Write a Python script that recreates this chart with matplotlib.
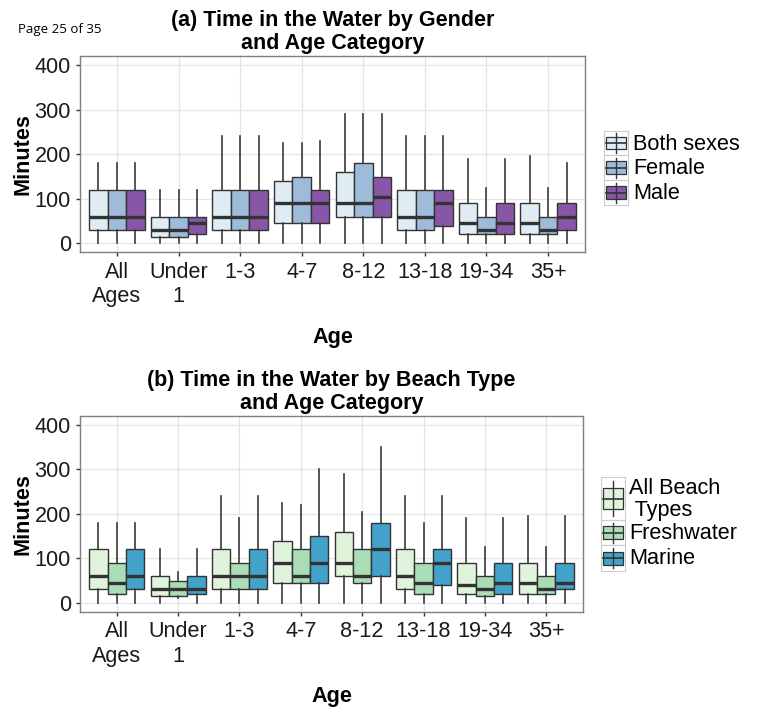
import numpy as np
import matplotlib
matplotlib.use('Agg')
import matplotlib.pyplot as plt
from matplotlib.patches import Rectangle

plt.rcParams['font.family'] = ['Liberation Sans', 'DejaVu Sans']

ages = ['All\nAges', 'Under\n1', '1-3', '4-7', '8-12', '13-18', '19-34', '35+']

# (a) gender
gender_labels = ['Both sexes', 'Female', 'Male']
gender_colors = ['#E0ECF4', '#9EBCDA', '#8856A7']
both_lo = [0, 0, 0, 0, 0, 0, 0, 0]
both_q1 = [30, 15, 30, 45, 60, 30, 20, 20]
both_med = [60, 30, 60, 90, 90, 60, 45, 45]
both_q3 = [120, 60, 120, 140, 160, 120, 90, 90]
both_hi = [180, 120, 240, 225, 290, 240, 190, 195]

female_lo = [0, 0, 0, 0, 0, 0, 0, 0]
female_q1 = [30, 15, 30, 45, 60, 30, 20, 20]
female_med = [60, 30, 60, 90, 90, 60, 30, 30]
female_q3 = [120, 60, 120, 150, 180, 120, 60, 60]
female_hi = [180, 120, 240, 225, 290, 240, 125, 125]

male_lo = [0, 0, 0, 0, 0, 0, 0, 0]
male_q1 = [30, 20, 30, 45, 60, 40, 20, 30]
male_med = [60, 45, 60, 90, 105, 90, 45, 60]
male_q3 = [120, 60, 120, 120, 150, 120, 90, 90]
male_hi = [180, 120, 240, 230, 290, 240, 190, 180]

# (b) beach type
beach_labels = ['All Beach\n Types', 'Freshwater', 'Marine']
beach_colors = ['#E0F3DB', '#A8DDB5', '#43A2CA']
all_lo = [0, 0, 0, 0, 0, 0, 0, 0]
all_q1 = [30, 15, 30, 45, 60, 30, 20, 20]
all_med = [60, 30, 60, 90, 90, 60, 40, 45]
all_q3 = [120, 60, 120, 140, 160, 120, 90, 90]
all_hi = [180, 120, 240, 225, 290, 240, 190, 195]

fresh_lo = [0, 10, 0, 0, 0, 0, 0, 0]
fresh_q1 = [20, 15, 30, 45, 45, 20, 15, 20]
fresh_med = [45, 30, 60, 60, 60, 45, 30, 30]
fresh_q3 = [90, 50, 90, 120, 120, 90, 60, 60]
fresh_hi = [180, 70, 190, 220, 205, 180, 125, 125]

marine_lo = [0, 0, 0, 0, 0, 0, 0, 0]
marine_q1 = [30, 20, 30, 45, 60, 40, 20, 30]
marine_med = [60, 30, 60, 90, 120, 90, 45, 45]
marine_q3 = [120, 60, 120, 150, 180, 120, 90, 90]
marine_hi = [180, 120, 240, 300, 350, 240, 190, 195]

gender_groups = [
    (both_lo, both_q1, both_med, both_q3, both_hi),
    (female_lo, female_q1, female_med, female_q3, female_hi),
    (male_lo, male_q1, male_med, male_q3, male_hi),
]
beach_groups = [
    (all_lo, all_q1, all_med, all_q3, all_hi),
    (fresh_lo, fresh_q1, fresh_med, fresh_q3, fresh_hi),
    (marine_lo, marine_q1, marine_med, marine_q3, marine_hi),
]

W, H = 762, 722
fig = plt.figure(figsize=(W / 100, H / 100), dpi=100)

DARK = '#333333'
FS = 15.6


def make_stats(lo, q1, med, q3, hi):
    return [dict(whislo=a, q1=b, med=c, q3=d, whishi=e, fliers=[])
            for a, b, c, d, e in zip(lo, q1, med, q3, hi)]


def panel(rect, groups, colors, title):
    ax = fig.add_axes(rect)
    pos = np.arange(1, len(ages) + 1)
    for i, (g, c) in enumerate(zip(groups, colors)):
        ax.bxp(make_stats(*g), positions=pos + (i - 1) * 0.3, widths=0.3,
               patch_artist=True, showcaps=False, showfliers=False,
               manage_ticks=False,
               boxprops=dict(facecolor=c, edgecolor=DARK, linewidth=1.0),
               medianprops=dict(color=DARK, linewidth=2.4, solid_capstyle='butt'),
               whiskerprops=dict(color='#3a3a3a', linewidth=1.2))
    ax.set_xlim(0.4, len(ages) + 0.6)
    ax.set_ylim(-20, 421)
    ax.set_xticks(pos)
    ax.set_xticklabels(ages)
    ax.set_yticks([0, 100, 200, 300, 400])
    ax.grid(True, color='#e5e5e5', linewidth=0.9)
    ax.set_axisbelow(True)
    for s in ax.spines.values():
        s.set_color('#7f7f7f')
        s.set_linewidth(1.0)
    ax.tick_params(axis='both', length=3, width=1, color='#333333',
                   labelsize=FS, labelcolor='#1a1a1a')
    ax.tick_params(axis='y', pad=3.5)
    ax.tick_params(axis='x', pad=4)
    ax.set_xlabel('Age', fontsize=FS, fontweight='bold', labelpad=14)
    ax.set_ylabel('Minutes', fontsize=FS, fontweight='bold', labelpad=0.5)
    ax.set_title(title, fontsize=15.5, fontweight='bold', pad=5, linespacing=1.1)
    return ax


ax1 = panel([80 / W, 1 - 252.3 / H, 505 / W, 196.6 / H], gender_groups,
            gender_colors, '(a) Time in the Water by Gender\nand Age Category')
ax2 = panel([80 / W, 1 - 611.7 / H, 503 / W, 196 / H], beach_groups,
            beach_colors, '(b) Time in the Water by Beach Type\nand Age Category')

# overlay in pixel coordinates for legends and page note
ov = fig.add_axes([0, 0, 1, 1])
ov.set_xlim(0, W)
ov.set_ylim(H, 0)
ov.axis('off')
ov.patch.set_alpha(0)

ov.text(18, 30, 'Page 25 of 35', fontsize=9.5, family=['Open Sans', 'DejaVu Sans'],
        va='center', ha='left')


def key(x0, y0, w, h, color):
    ov.add_patch(Rectangle((x0, y0), w, h, facecolor='white', edgecolor='#cccccc', lw=0.8))
    cx = x0 + w / 2
    ov.plot([cx, cx], [y0 + 0.1 * h, y0 + 0.9 * h], color=DARK, lw=1.0)
    ov.add_patch(Rectangle((x0 + 0.1 * w, y0 + 0.25 * h), 0.8 * w, 0.5 * h,
                           facecolor=color, edgecolor=DARK, lw=0.9))
    ov.plot([x0 + 0.1 * w, x0 + 0.9 * w], [y0 + 0.5 * h] * 2, color=DARK, lw=1.2)


def legend(x0, tx, cells, labels, colors):
    for (ya, yb), lab, col in zip(cells, labels, colors):
        key(x0, ya, 24, yb - ya, col)
        ov.text(tx, (ya + yb) / 2 + 1, lab, fontsize=FS, va='center', ha='left',
                linespacing=1.05)


legend(604, 633, [(131, 155), (155, 180), (180, 205)], gender_labels, gender_colors)
legend(601, 629, [(477, 520), (520, 545), (545, 571)], beach_labels, beach_colors)

fig.savefig('out.png', dpi=100)
